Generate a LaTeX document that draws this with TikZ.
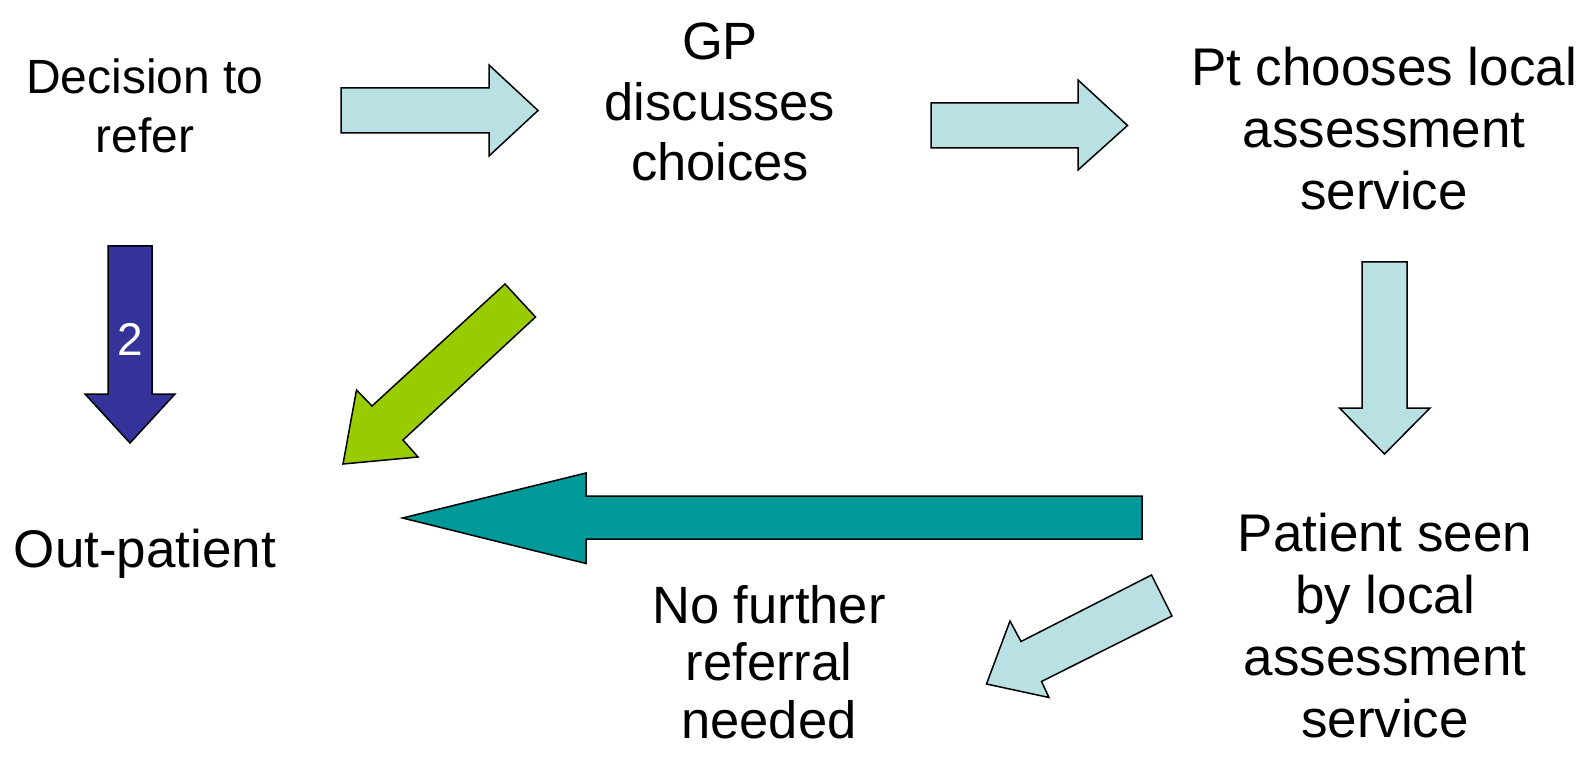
\documentclass[tikz,border=0pt]{standalone}
\usepackage{fontspec}
\setmainfont{Liberation Sans}
\definecolor{paleblue}{RGB}{185,224,227}
\definecolor{tealarr}{RGB}{0,153,153}
\definecolor{greenarr}{RGB}{153,204,0}
\definecolor{navyarr}{RGB}{51,51,153}
\begin{document}
\begin{tikzpicture}[x=1pt,y=-1pt,
  lbl/.style={align=center,inner sep=0pt,anchor=north,font=\fontsize{53}{60}\selectfont},
  blockarr/.style={draw=black,line width=1.5pt,line join=miter}]
\useasboundingbox (0,0) rectangle (1587,759);

% texts
\node[lbl,font=\fontsize{48}{58.5}\selectfont] (dec) at (145,59) {Decision to\\refer};
\node[lbl,font=\fontsize{52.5}{60.5}\selectfont] (gp) at (720,23) {GP\\discusses\\choices};
\node[lbl,font=\fontsize{53}{62}\selectfont] (pt) at (1384,47) {Pt chooses local\\assessment\\service};
\node[lbl,anchor=base] (out) at (145,567) {Out-patient};
\node[lbl,font=\fontsize{53}{62}\selectfont] (pat) at (1385,513) {Patient seen\\by local\\assessment\\service};
\node[lbl,font=\fontsize{52.5}{57.5}\selectfont] (nof) at (769,585) {No further\\referral\\needed};

% arrows
\draw[blockarr,fill=paleblue] (341,88) -- (489,88) -- (489,65) -- (538,110.5) -- (489,156) -- (489,133) -- (341,133) -- cycle;
\draw[blockarr,fill=paleblue] (931,103) -- (1078,103) -- (1078,80) -- (1127.5,125.5) -- (1078,170) -- (1078,148) -- (931,148) -- cycle;
\draw[blockarr,fill=paleblue] (1362,262) -- (1362,408) -- (1339.5,408) -- (1384.5,454) -- (1430,408) -- (1407,408) -- (1407,262) -- cycle;
\draw[blockarr,fill=navyarr] (108,246) -- (108,394) -- (85,394) -- (130,443) -- (175,394) -- (152,394) -- (152,246) -- cycle;
\node[text=white,font=\fontsize{46}{52}\selectfont,inner sep=0pt] (two) at (130,339) {2};
\draw[blockarr,fill=tealarr] (1142,496) -- (586,496) -- (586,473) -- (402.5,518) -- (586,563.5) -- (586,539) -- (1142,539) -- cycle;
\draw[blockarr,fill=greenarr] (505,284) -- (535.5,317) -- (403,440) -- (418,457) -- (343,464) -- (356.5,390) -- (372,406) -- cycle;
\draw[blockarr,fill=paleblue] (1151.5,575) -- (1172,616) -- (1041.5,681.5) -- (1049,697.5) -- (986.5,684) -- (1010,621) -- (1021,641.5) -- cycle;
\end{tikzpicture}
\end{document}
